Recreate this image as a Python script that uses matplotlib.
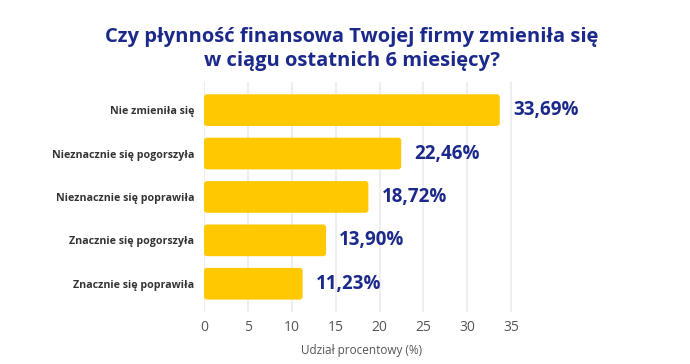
import matplotlib.pyplot as plt
from matplotlib.patches import FancyBboxPatch

kategorie = ["Nie zmieniła się", "Nieznacznie się pogorszyła", "Nieznacznie się poprawiła",
             "Znacznie się pogorszyła", "Znacznie się poprawiła"]
udzial = [33.69, 22.46, 18.72, 13.90, 11.23]
etykiety = ["33,69%", "22,46%", "18,72%", "13,90%", "11,23%"]
ticki = [0, 5, 10, 15, 20, 25, 30, 35]

granat = "#1b2a8a"
zolty = "#ffc800"

plt.rcParams['font.family'] = ['Open Sans', 'DejaVu Sans']

fig = plt.figure(figsize=(6.9, 3.64), dpi=100)
ax = fig.add_axes([0.2957, 0.143, 0.4580, 0.632])

y = list(range(len(kategorie)))
bary = ax.barh(y, udzial, height=0.73, color=zolty, zorder=3)
# zaokraglone rogi
for b in bary:
    x0, y0 = b.get_x(), b.get_y()
    w, h = b.get_width(), b.get_height()
    b.set_visible(False)
    ax.add_patch(FancyBboxPatch((x0, y0), w, h,
                                boxstyle="round,pad=0,rounding_size=0.34",
                                mutation_aspect=0.2, facecolor=zolty,
                                edgecolor="none", zorder=3))
for i, (v, t) in enumerate(zip(udzial, etykiety)):
    ax.text(v + 1.5, i, t, va="center", ha="left", fontsize=13.5,
            fontweight="bold", color=granat)

ax.set_xlim(0, 36)
ax.set_ylim(4.65, -0.65)
ax.set_xticks(ticki)
ax.set_yticks(y)
ax.set_yticklabels(kategorie, fontsize=7.7, fontweight="bold", color="#333333")
ax.tick_params(axis="x", labelsize=10, colors="#555555", length=0, pad=6)
ax.tick_params(axis="y", length=0, pad=7)
ax.grid(axis="x", color="#eeeeee", linewidth=1.5, zorder=0)
for s in ax.spines.values():
    s.set_visible(False)
ax.set_xlabel("Udział procentowy (%)", fontsize=8.5, color="#555555", labelpad=6)

fig.text(0.51, 0.865, "Czy płynność finansowa Twojej firmy zmieniła się\nw ciągu ostatnich 6 miesięcy?",
         ha="center", va="center", fontsize=14.5, fontweight="bold", color=granat,
         linespacing=1.22)

fig.savefig("out.png", dpi=100, facecolor="white")
